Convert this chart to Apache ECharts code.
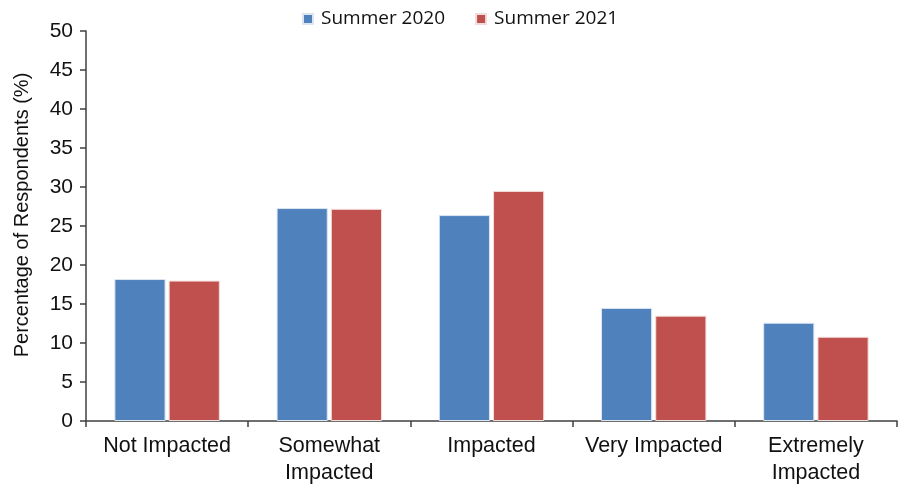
<!DOCTYPE html>
<html>
<head>
<meta charset="utf-8">
<script src="https://cdn.jsdelivr.net/npm/echarts@6/dist/echarts.min.js"></script>
<style>
  html, body { margin: 0; padding: 0; background: #fff; overflow: hidden; }
  #chart { width: 899px; height: 487px; }
</style>
</head>
<body>
<div id="chart"></div>
<script>
// Impact categories along the x axis
const categories = ['Not Impacted', 'Somewhat\nImpacted', 'Impacted', 'Very Impacted', 'Extremely\nImpacted'];
// Percentage of respondents per category
const summer2020 = [18.2, 27.3, 26.4, 14.5, 12.6];
const summer2021 = [18.0, 27.2, 29.5, 13.5, 10.8];
const seriesNames = ['Summer 2020', 'Summer 2021'];
const yAxisTitle = 'Percentage of Respondents (%)';

const axisColor = '#404040';
const labelFont = 'Liberation Sans, Arial, sans-serif';

const chart = echarts.init(document.getElementById('chart'), null, { renderer: 'canvas', width: 899, height: 487 });
chart.setOption({
  animation: false,
  backgroundColor: '#ffffff',
  legend: {
    top: 9,
    left: 302,
    padding: 0,
    itemWidth: 10,
    itemHeight: 10,
    itemGap: 30,
    icon: 'rect',
    textStyle: {
      fontFamily: 'Open Sans, sans-serif',
      fontSize: 19,
      lineHeight: 20,
      color: '#111',
      padding: [0, 0, 0, 3]
    },
    data: seriesNames
  },
  graphic: [{
    type: 'text',
    x: 22,
    y: 215,
    rotation: Math.PI / 2,
    style: {
      text: yAxisTitle,
      font: '20px ' + labelFont,
      fill: '#111',
      align: 'center',
      verticalAlign: 'middle'
    }
  }],
  grid: { left: 86, right: 2, top: 31, bottom: 62, containLabel: false },
  xAxis: {
    type: 'category',
    data: categories,
    axisLine: { lineStyle: { color: axisColor, width: 1.5 } },
    axisTick: { show: true, length: 6, lineStyle: { color: axisColor, width: 1.5 } },
    axisLabel: {
      color: '#111',
      fontFamily: labelFont,
      fontSize: 21.5,
      lineHeight: 27,
      margin: 12,
      interval: 0
    }
  },
  yAxis: {
    type: 'value',
    min: 0,
    max: 50,
    interval: 5,
    splitLine: { show: false },
    axisLine: { show: true, lineStyle: { color: axisColor, width: 1.5 } },
    axisTick: { show: true, length: 6, lineStyle: { color: axisColor, width: 1.5 } },
    axisLabel: { color: '#111', fontFamily: labelFont, fontSize: 21, margin: 13 }
  },
  series: [
    {
      name: seriesNames[0],
      type: 'bar',
      data: summer2020,
      barGap: '6%',
      barCategoryGap: '35%',
      itemStyle: { color: '#4F81BD', borderColor: '#dce6f2', borderWidth: 1 }
    },
    {
      name: seriesNames[1],
      type: 'bar',
      data: summer2021,
      barGap: '6%',
      barCategoryGap: '35%',
      itemStyle: { color: '#C0504D', borderColor: '#f2dcdb', borderWidth: 1 }
    }
  ]
});
</script>
</body>
</html>
